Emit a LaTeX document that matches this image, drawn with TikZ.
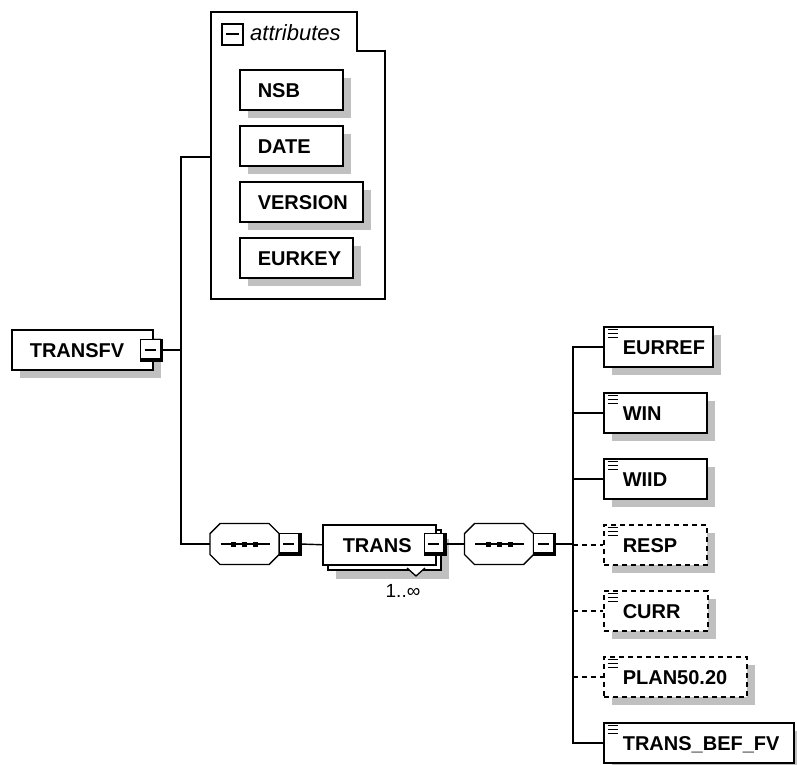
\documentclass[tikz,border=0pt]{standalone}
\usepackage{fontspec}
\setmainfont{Liberation Sans}
\usetikzlibrary{shadows,positioning}

\definecolor{shadowgray}{RGB}{192,192,192}
\newcommand{\boxfont}{\fontsize{20}{24}\selectfont\bfseries}
\newcommand{\hdrfont}{\fontsize{22}{26}\selectfont\itshape}
\newcommand{\multfont}{\fontsize{19}{23}\selectfont}

\tikzset{
conn/.style={line width=1.4pt},
optconn/.style={conn, dash pattern=on 5pt off 4pt},
boxshadow/.style={drop shadow={shadow xshift=8pt, shadow yshift=-8pt, fill=shadowgray, opacity=1}},
basebox/.style={draw, fill=white, line width=1.6pt, anchor=north west, minimum height=40pt,
  inner xsep=0pt, text width=#1, text height=14.5pt, text depth=0pt, font=\boxfont, boxshadow},
attrbox/.style={basebox=#1, execute at begin node=\hspace*{18pt}},
elembox/.style={basebox=#1, execute at begin node=\hspace*{19pt},
  path picture={
    \foreach \dy in {3,7,11}
      \draw[solid, line width=1.3pt] ([xshift=4pt,yshift=-\dy pt]path picture bounding box.north west) -- ++(10,0);
  }},
optbox/.style={elembox=#1, dash pattern=on 5pt off 4pt},
minusbtn/.style={draw, fill=white, line width=1pt, minimum size=22pt, inner sep=0pt, outer sep=0pt,
  path picture={
    \draw[line width=3pt] ([xshift=-1.5pt]path picture bounding box.north east) -- ([xshift=-1.5pt,yshift=1.5pt]path picture bounding box.south east) -- ([yshift=1.5pt]path picture bounding box.south west);
    \draw[line width=1.4pt] ([xshift=4pt]path picture bounding box.west) -- ([xshift=-7pt]path picture bounding box.east);
  }},
hdrminus/.style={draw, fill=white, line width=2pt, minimum size=21pt, inner sep=0pt,
  path picture={
    \draw[line width=1.6pt] ([xshift=4pt]path picture bounding box.west) -- ([xshift=-4pt]path picture bounding box.east);
  }},
seqbox/.style={minimum width=69pt, minimum height=41pt, inner sep=0pt, outer sep=0pt},
seqline/.style={line width=1.4pt}
}

\begin{document}
\begin{tikzpicture}[x=1pt,y=-1pt]
\useasboundingbox (0,0) rectangle (797,764);

% attribute group
\draw[line width=1.6pt, fill=white] (211,12) -- (357,12) -- (357,51) -- (385,51) -- (385,299) -- (211,299) -- cycle;
\coordinate (attrL) at (211,157);
\node[hdrminus] (attrminus) at (232,34) {};
\node[anchor=base west, font=\hdrfont, inner sep=0pt] (attrlabel) at (250,40) {attributes};

\node[attrbox=103pt] (nsb) at (239,69) {NSB};
\node[attrbox=103pt] (date) at (239,125) {DATE};
\node[attrbox=123pt] (version) at (239,181) {VERSION};
\node[attrbox=113pt] (eurkey) at (239,237) {EURKEY};

% root element
\node[attrbox=141pt] (transfv) at (11,329) {TRANSFV};
\node[minusbtn] (tfvminus) at (151.5,350) {};
\coordinate (spineA) at (181,350);

% sequences (octagons drawn on the two frames)
\node[seqbox] (seq1) at (244.5,544) {};
\node[seqbox] (seq2) at (499,544) {};
\foreach \s in {seq1,seq2} {
  \fill[shadowgray, shift={(8,8)}] ([xshift=10pt]\s.north west) -- ([xshift=-10pt]\s.north east) -- ([yshift=-10pt]\s.north east)
    -- ([yshift=10pt]\s.south east) -- ([xshift=-10pt]\s.south east) -- ([xshift=10pt]\s.south west)
    -- ([yshift=10pt]\s.south west) -- ([yshift=-10pt]\s.north west) -- cycle;
  \draw[seqline, fill=white] ([xshift=10pt]\s.north west) -- ([xshift=-10pt]\s.north east) -- ([yshift=-10pt]\s.north east)
    -- ([yshift=10pt]\s.south east) -- ([xshift=-10pt]\s.south east) -- ([xshift=10pt]\s.south west)
    -- ([yshift=10pt]\s.south west) -- ([yshift=-10pt]\s.north west) -- cycle;
  \draw[seqline] ([xshift=-24pt]\s.center) -- ([xshift=25pt]\s.center);
  \foreach \dx in {-11,0,11}
    \fill[black] ([xshift=\dx pt]\s.center) +(-2.5,-2.5) rectangle +(2.5,2.5);
}
\node[minusbtn] (seq1minus) at (290,544) {};
\node[minusbtn] (seq2minus) at (544.5,544) {};
\coordinate (spineB) at (573,544);

% TRANS with its stacked copy
\node[draw, fill=white, line width=1.5pt, anchor=north west, minimum height=40pt, inner xsep=0pt,
  text width=113pt, text height=14.5pt, text depth=0pt, font=\boxfont,
  drop shadow={shadow xshift=13pt, shadow yshift=-14pt, fill=shadowgray, opacity=1},
  copy shadow={shadow xshift=5pt, shadow yshift=-5pt, draw=black, fill=white, line width=1.5pt},
  execute at begin node=\hspace*{20pt}] (trans) at (322,524) {TRANS};
\fill[white] (407,567) -- (416,576) -- (425,567) -- cycle;
\draw[line width=1.3pt] (407,568) -- (416,576) -- (425,568);
\node[minusbtn] (transminus) at (435,544) {};
\node[font=\multfont] (mult) at (403,591) {1..∞};

% child elements
\node[elembox=109pt] (eurref) at (603,326) {EURREF};
\node[elembox=103pt] (win) at (603,392) {WIN};
\node[elembox=103pt] (wiid) at (603,458) {WIID};
\node[optbox=103pt] (resp) at (603,524) {RESP};
\node[optbox=104pt] (curr) at (603,590) {CURR};
\node[optbox=143pt] (plan) at (603,656) {PLAN50.20};
\node[elembox=190pt] (tbf) at (603,722) {TRANS\_BEF\_FV};

% connectors
\draw[conn] (tfvminus.east) -- (spineA);
\draw[conn] (attrL) -| (spineA |- seq1.west) -- (seq1.west);
\draw[conn] (seq1minus.east) -- (trans.west);
\draw[conn] (transminus.east) -- (seq2.west);
\draw[conn] (seq2minus.east) -- (spineB);
\draw[conn] (eurref.west) -| (spineB |- tbf.west) -- (tbf.west);
\foreach \n in {win,wiid}
  \draw[conn] (spineB |- \n.west) -- (\n.west);
\foreach \n in {resp,curr,plan}
  \draw[optconn] (spineB |- \n.west) -- (\n.west);

\end{tikzpicture}
\end{document}
